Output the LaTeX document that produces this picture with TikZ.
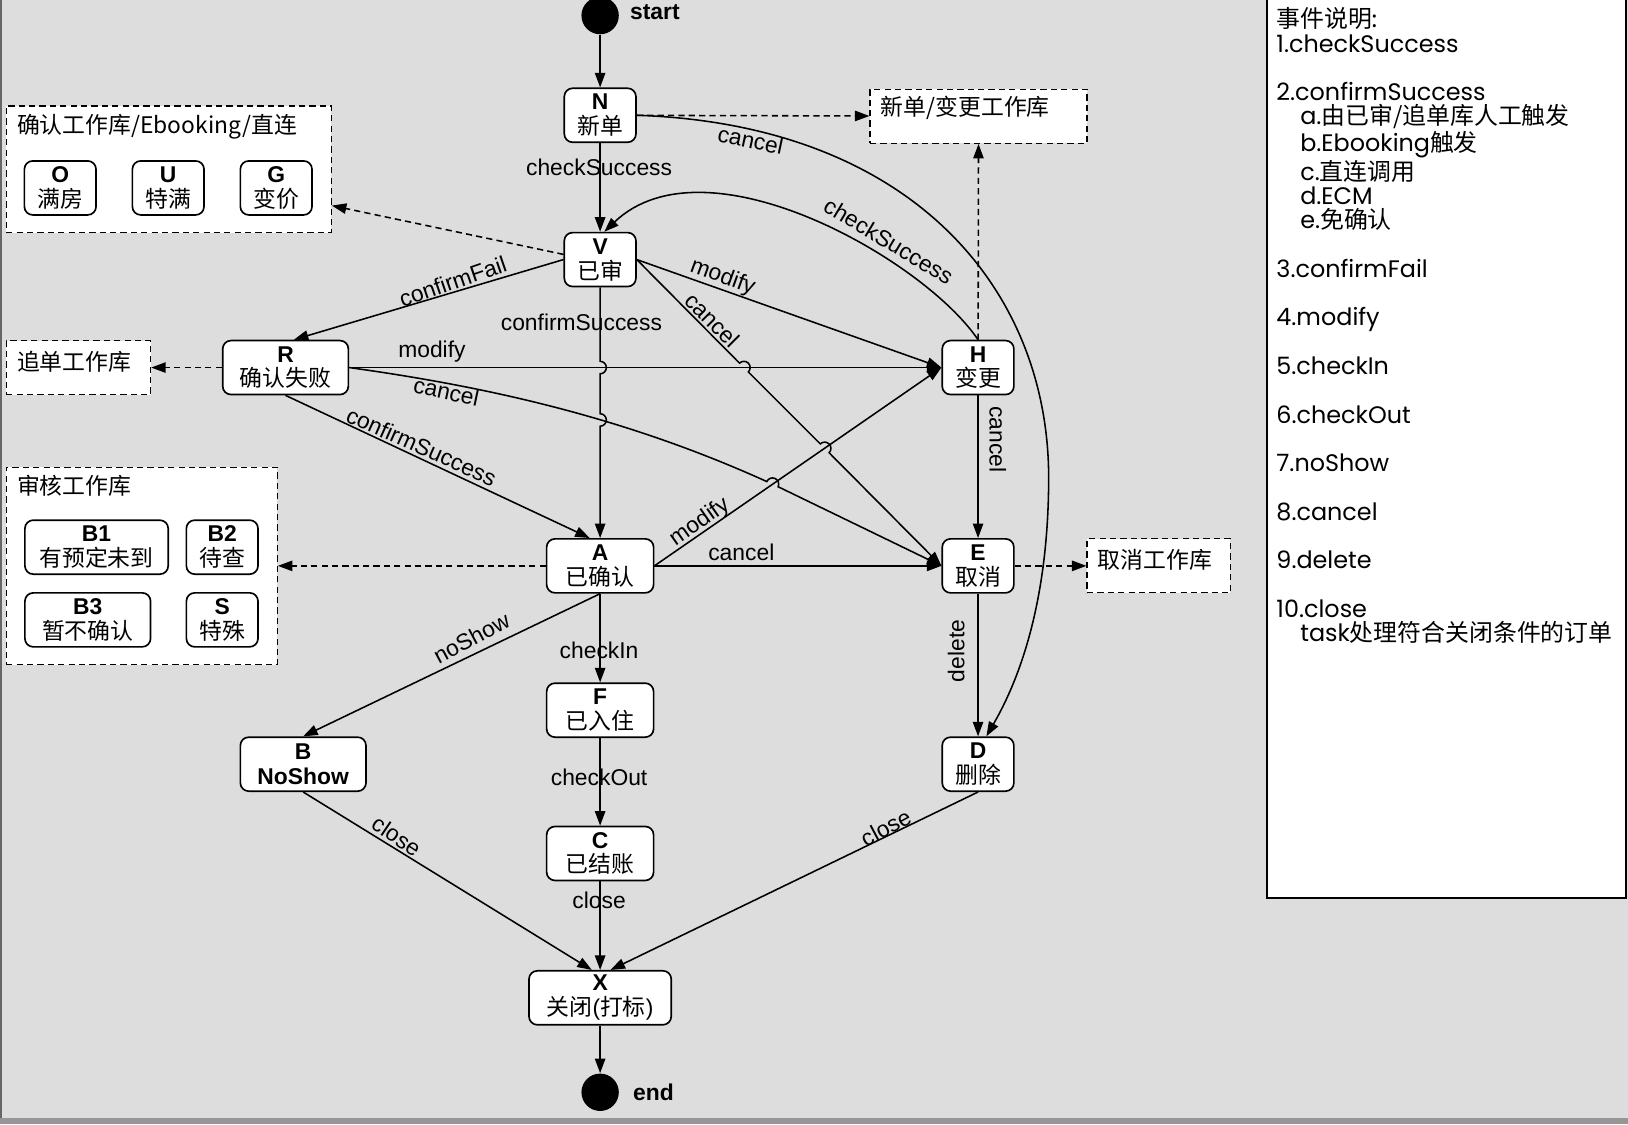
\documentclass[tikz,border=0pt]{standalone}
\usepackage{fontspec}
\setmainfont{Liberation Sans}
\newfontfamily\cjk{Noto Sans CJK SC}
\newfontfamily\legendfont{Poppins}
\usetikzlibrary{arrows.meta}
\definecolor{canvas}{RGB}{221,221,221}
\definecolor{band}{RGB}{150,150,150}
\newcommand{\stname}[2]{\textbf{#1}\\{\cjk #2}}

\begin{document}
\begin{tikzpicture}[x=0.5pt,y=0.5pt,yscale=-1,xscale=1,
  state/.style={draw, fill=white, rounded corners=4pt, line width=0.8pt, inner sep=0pt, minimum height=26pt, align=center, font=\fontsize{11}{12}\selectfont},
  smallstate/.style={state, minimum width=34.5pt},
  midstate/.style={state, minimum width=51.5pt},
  widestate/.style={state, minimum width=60.5pt},
  pseudo/.style={circle, fill=black, inner sep=0pt, minimum size=18pt},
  pool/.style={draw, fill=white, dash pattern=on 3pt off 2pt, line width=0.6pt, inner sep=0pt},
  pooltext/.style={anchor=west, inner sep=0pt, font=\cjk\fontsize{11}{12}\selectfont},
  lbl/.style={inner sep=0.75pt, font=\fontsize{11}{12}\selectfont},
  arr/.style={-{Triangle[length=7pt,width=5pt]}, line width=0.75pt},
  dasharr/.style={arr, dash pattern=on 3pt off 2pt}]
\useasboundingbox (0,0) rectangle (1568,1083);
\fill[canvas] (0,0) rectangle (1568,1083);
\fill[band] (0,1077) rectangle (1568,1083);
\fill[black!60] (0,0) rectangle (2,1077);

%Dashed Boxes
\node[pool, minimum width=156.5pt, minimum height=61pt] (CB) at (162.5,163) {};
\node[pooltext] (tCB) at (16,122) {确认工作库/Ebooking/直连};
\node[smallstate] (O) at (58,181) {\stname{O}{满房}};
\node[smallstate] (U) at (162,181) {\stname{U}{特满}};
\node[smallstate] (G) at (266,181) {\stname{G}{变价}};
\node[pool, minimum width=69.5pt, minimum height=26pt] (ZB) at (75.5,354) {};
\node[pooltext] (tZB) at (16,348) {追单工作库};
\node[pool, minimum width=104.5pt, minimum height=26pt] (NB) at (942.5,112) {};
\node[pooltext] (tNB) at (848,104) {新单/变更工作库};
\node[pool, minimum width=130.5pt, minimum height=95pt] (SB) at (136.5,545) {};
\node[pooltext] (tSB) at (16,468) {审核工作库};
\node[state, minimum width=69pt] (B1) at (93,527) {\stname{B1}{有预定未到}};
\node[smallstate] (B2) at (214,527) {\stname{B2}{待查}};
\node[widestate] (B3) at (84.5,597) {\stname{B3}{暂不确认}};
\node[smallstate] (S) at (214,597) {\stname{S}{特殊}};
\node[pool, minimum width=69pt, minimum height=26pt] (QB) at (1116,545) {};
\node[pooltext] (tQB) at (1057,539) {取消工作库};

%States
\node[pseudo] (start) at (578,15) {};
\node[lbl, anchor=west, font=\bfseries\fontsize{11}{12}\selectfont] (tStart) at (605,12) {start};
\node[smallstate] (N) at (578,111) {\stname{N}{新单}};
\node[smallstate] (V) at (578,250) {\stname{V}{已审}};
\node[widestate] (R) at (275,354) {\stname{R}{确认失败}};
\node[smallstate] (H) at (942,354) {\stname{H}{变更}};
\node[midstate] (A) at (578,545) {\stname{A}{已确认}};
\node[smallstate] (E) at (942,545) {\stname{E}{取消}};
\node[midstate] (F) at (578,684) {\stname{F}{已入住}};
\node[widestate] (B) at (292,736) {\textbf{B}\\\textbf{NoShow}};
\node[smallstate] (D) at (942,736) {\stname{D}{删除}};
\node[midstate] (C) at (578,822) {\stname{C}{已结账}};
\node[state, minimum width=68.5pt] (X) at (578,961) {\textbf{X}\\{\cjk 关闭}({\cjk 打标})};
\node[pseudo] (stop) at (578,1052) {};
\node[lbl, anchor=west, font=\bfseries\fontsize{11}{12}\selectfont] (tStop) at (608,1052) {end};

%Straight Lines
\draw[arr] (start) -- (N);
\draw[arr] (N) -- (V);
\draw[dasharr] (N) -- (NB);
\draw[dasharr] ([yshift=-2.5pt]V.west) -- ([yshift=17.5pt]CB.east);
\draw[arr] (V.west) -- ([xshift=4pt]R.north);
\draw[arr] (V.east) -- (H.west);
\draw[arr] (V.east) -- (712.26,349.76) arc (225:405:6) -- (790.06,427.56) arc (225:405:6) -- (E.west);
\draw[arr] (V) -- (578,348) arc (-90:90:6) -- (578,398.5) arc (-90:90:6) -- (A);
\draw[dasharr] (R) -- (ZB);
\draw[arr] (R) -- (H);
\draw[arr] (R.south) -- ([xshift=-5pt]A.north);
\draw[dasharr] (A) -- (SB);
\draw[arr] (A.east) -- (H.west);
\draw[arr] (A) -- (E);
\draw[arr] (A.south) -- (B.north);
\draw[arr] (A) -- (F);
\draw[arr] (F) -- (C);
\draw[arr] (C) -- (X);
\draw[arr] (B.south) -- ([xshift=-4pt]X.north);
\draw[arr] (D.south) -- ([xshift=5pt]X.north);
\draw[arr] (H) -- (E);
\draw[dasharr] (H) -- (NB);
\draw[arr] (E) -- (D);
\draw[dasharr] (E) -- (QB);
\draw[arr] (X) -- (stop);

%Curve Lines
\draw[arr] (N.east) .. controls (880,120) and (1010,280) .. (1010,460) .. controls (1010,560) and (990,640) .. ([xshift=4pt]D.north);
\draw[arr] (H.north) .. controls (890,250) and (680,130) .. ([xshift=2pt]V.north);
\draw[arr] (R.east) .. controls (466,372) and (600,401) .. (738.54,463.81) arc (204.5:384.5:6) -- (E.west);

% Text Node
\node[lbl] (l1) at (577,161) {checkSuccess};
\node[lbl, rotate=-12] (l2) at (723,135) {cancel};
\node[lbl, rotate=-31] (l3) at (856,232) {checkSuccess};
\node[lbl, rotate=19] (l4) at (436,271) {confirmFail};
\node[lbl, rotate=-20] (l5) at (696,267) {modify};
\node[lbl, rotate=-45] (l6) at (686,308) {cancel};
\node[lbl] (l7) at (560,310) {confirmSuccess};
\node[lbl] (l8) at (416,339) {modify};
\node[lbl, rotate=-12] (l9) at (430,377) {cancel};
\node[lbl, rotate=-24] (l10) at (406,430) {confirmSuccess};
\node[lbl, rotate=35] (l11) at (674,503) {modify};
\node[lbl] (l12) at (714,532) {cancel};
\node[lbl, rotate=28] (l13) at (454,614) {noShow};
\node[lbl] (l14) at (577,626) {checkIn};
\node[lbl] (l15) at (577,749) {checkOut};
\node[lbl] (l16) at (577,867) {close};
\node[lbl, rotate=-34] (l17) at (382,805) {close};
\node[lbl, rotate=28] (l18) at (853,797) {close};
\node[lbl, rotate=-90] (l19) at (961,423) {cancel};
\node[lbl, rotate=90] (l20) at (921,627) {delete};

%Legend
\node[draw, fill=white, line width=0.8pt, minimum width=173pt, minimum height=435pt, inner sep=0pt] (legend) at (1393,430) {};
\node[anchor=north west, inner sep=0pt, align=left, font=\legendfont\fontsize{11.5}{11.7}\selectfont] (tLegend) at (1229,7) {{\cjk 事件说明:}\\
1.checkSuccess\\[11.7pt]
2.confirmSuccess\\
\hspace*{11.5pt}a.{\cjk 由已审/追单库人工触发}\\
\hspace*{11.5pt}b.Ebooking{\cjk 触发}\\
\hspace*{11.5pt}c.{\cjk 直连调用}\\
\hspace*{11.5pt}d.ECM\\
\hspace*{11.5pt}e.{\cjk 免确认}\\[11.7pt]
3.confirmFail\\[11.7pt]
4.modify\\[11.7pt]
5.checkIn\\[11.7pt]
6.checkOut\\[11.7pt]
7.noShow\\[11.7pt]
8.cancel\\[11.7pt]
9.delete\\[11.7pt]
10.close\\
\hspace*{11.5pt}task{\cjk 处理符合关闭条件的订单}};

\end{tikzpicture}
\end{document}
